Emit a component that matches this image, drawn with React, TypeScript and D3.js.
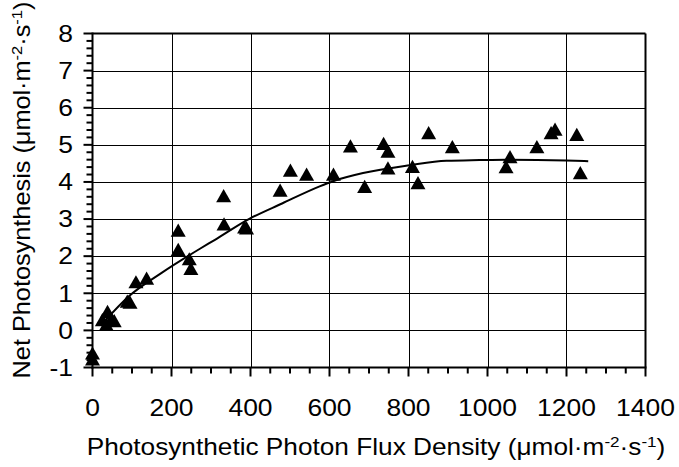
import React from "react";
import * as d3 from "d3";

const ppfd = [0, 0, 25, 35, 38, 48, 55, 88, 95, 110, 137, 217, 217, 245, 249, 332, 333, 385, 390, 475, 501, 542, 610, 653, 689, 737, 748, 748, 810, 824, 851, 911, 1047, 1057, 1125, 1161, 1171, 1226, 1235];
const netPs = [-0.62, -0.78, 0.28, 0.15, 0.5, 0.3, 0.25, 0.78, 0.75, 1.3, 1.4, 2.69, 2.17, 1.92, 1.66, 3.62, 2.86, 2.78, 2.75, 3.77, 4.31, 4.2, 4.2, 4.96, 3.87, 5.03, 4.82, 4.37, 4.41, 3.97, 5.32, 4.94, 4.4, 4.67, 4.94, 5.32, 5.41, 5.27, 4.24];

const fitX = [30, 90, 175, 272, 310, 398, 480, 575, 609, 685, 803, 896, 980, 1047, 1199, 1255];
const fitY = [0.24, 0.9, 1.55, 2.2, 2.44, 3.01, 3.42, 3.88, 4.02, 4.24, 4.45, 4.57, 4.59, 4.6, 4.58, 4.56];

const xTicks = [0, 200, 400, 600, 800, 1000, 1200, 1400];
const yTicks = [-1, 0, 1, 2, 3, 4, 5, 6, 7, 8];

const W = 679;
const H = 467;
const left = 92.5;
const right = 645.5;
const top = 33.5;
const bottom = 367.5;
const FONT = "'Liberation Sans', Arial, Helvetica, sans-serif";
const FS = 23;
const STRETCH = 1.15;

export default function App() {
  const x = d3.scaleLinear().domain([0, 1400]).range([left, right]);
  const y = d3.scaleLinear().domain([-1, 8]).range([bottom, top]);

  const xMinor = d3.range(0, 1400 + 1, 50).filter((v) => v % 200 !== 0);
  const yMinor = d3.range(-1, 8.0001, 0.2).map((v) => Math.round(v * 10) / 10).filter((v) => Math.abs(v - Math.round(v)) > 1e-6);

  const line = d3
    .line<number>()
    .x((_, i) => x(fitX[i]))
    .y((d) => y(d))
    .curve(d3.curveMonotoneX);

  const tri = "M0,-7L7.5,6.2L-7.5,6.2Z";

  const unitTspans = (
    <>
      <tspan fontSize={15} dy={-8}>-2</tspan>
      <tspan dy={8}>·s</tspan>
      <tspan fontSize={15} dy={-8}>-1</tspan>
      <tspan dy={8}>)</tspan>
    </>
  );

  return (
    <svg width={W} height={H} style={{ position: "absolute", left: 0, top: 0, background: "#fff" }} fontFamily={FONT}>
      <rect x={0} y={0} width={W} height={H} fill="#fff" />
      {/* grid */}
      {xTicks.slice(1, -1).map((t) => (
        <line key={"gx" + t} x1={Math.round(x(t)) + 0.5} x2={Math.round(x(t)) + 0.5} y1={top} y2={bottom} stroke="#000" strokeWidth={1} />
      ))}
      {yTicks.slice(1, -1).map((t) => (
        <line key={"gy" + t} x1={left} x2={right} y1={Math.round(y(t)) + 0.5} y2={Math.round(y(t)) + 0.5} stroke="#000" strokeWidth={1} />
      ))}
      {/* border */}
      <line x1={left} x2={right} y1={top} y2={top} stroke="#000" strokeWidth={2} />
      <line x1={right} x2={right} y1={top} y2={bottom} stroke="#000" strokeWidth={2} />
      <line x1={left} x2={left} y1={top - 1} y2={bottom + 1} stroke="#000" strokeWidth={2} />
      <line x1={left - 1} x2={right + 1} y1={bottom} y2={bottom} stroke="#000" strokeWidth={2} />
      {/* y ticks */}
      {yTicks.map((t) => (
        <line key={"yt" + t} x1={left - 9} x2={left} y1={y(t)} y2={y(t)} stroke="#000" strokeWidth={2} />
      ))}
      {yMinor.map((t) => (
        <line key={"ym" + t} x1={left - 6} x2={left} y1={y(t)} y2={y(t)} stroke="#000" strokeWidth={2} />
      ))}
      {yTicks.map((t) => (
        <text key={"yl" + t} transform={`translate(73,${y(t)}) scale(${STRETCH},1)`} dy="0.36em" textAnchor="end" fontSize={FS} fill="#000">
          {t}
        </text>
      ))}
      {/* x ticks */}
      {xTicks.map((t) => (
        <line key={"xt" + t} x1={x(t)} x2={x(t)} y1={bottom} y2={bottom + 9} stroke="#000" strokeWidth={2} />
      ))}
      {xMinor.map((t) => (
        <line key={"xm" + t} x1={x(t)} x2={x(t)} y1={bottom} y2={bottom + 6} stroke="#000" strokeWidth={2} />
      ))}
      {xTicks.map((t) => (
        <text key={"xl" + t} transform={`translate(${x(t)},416) scale(${STRETCH},1)`} textAnchor="middle" fontSize={FS} fill="#000">
          {t}
        </text>
      ))}
      {/* fit line */}
      <path d={line(fitY) || ""} fill="none" stroke="#000" strokeWidth={2} />
      {/* points */}
      {ppfd.map((v, i) => (
        <path key={"p" + i} d={tri} transform={`translate(${x(v)},${y(netPs[i])})`} fill="#000" />
      ))}
      {/* titles */}
      <text transform={`translate(376,455) scale(1.14,1)`} textAnchor="middle" fontSize={FS} fill="#000">
        Photosynthetic Photon Flux Density (μmol·m
        {unitTspans}
      </text>
      <text transform="translate(30,190) rotate(-90) scale(1.1,1)" textAnchor="middle" fontSize={FS} fill="#000">
        Net Photosynthesis (μmol·m
        {unitTspans}
      </text>
    </svg>
  );
}
